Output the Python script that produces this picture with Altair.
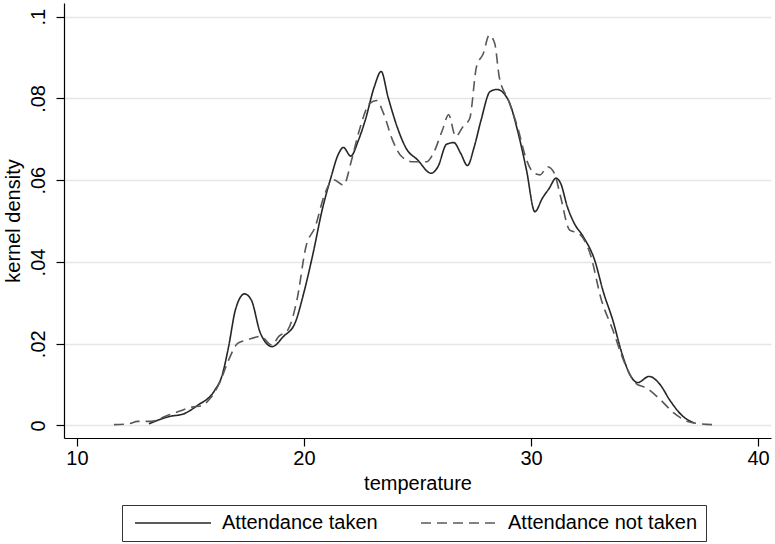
import altair as alt
import pandas as pd

# Kernel density estimates of temperature, by whether attendance was taken
taken_x = [13.17, 14.07, 14.68, 15.28, 16.08, 16.38, 16.68, 16.98, 17.38, 17.68,
           18.08, 18.6, 19.1, 19.6, 19.99, 20.4, 20.8, 21.2, 21.5, 21.74,
           22.06, 22.4, 22.7, 23.1, 23.4, 23.7, 24.1, 24.5, 25.0, 25.6,
           25.9, 26.28, 26.6, 26.9, 27.2, 27.5, 27.8, 28.2, 28.5, 29.0,
           29.4, 29.8, 30.17, 30.5, 30.8, 31.1, 31.3, 31.6, 31.9, 32.3,
           32.8, 33.2, 33.6, 34.0, 34.4, 34.7, 35.2, 35.7, 36.1, 36.7, 37.2]
taken_y = [0.0004, 0.0022, 0.0028, 0.0048, 0.0087, 0.012, 0.0193, 0.0283, 0.0322, 0.0307,
           0.0226, 0.0193, 0.0218, 0.025, 0.0324, 0.0421, 0.0527, 0.0609, 0.0662, 0.068,
           0.0659, 0.0698, 0.0747, 0.0829, 0.0866, 0.0804, 0.0731, 0.0678, 0.065, 0.0617,
           0.0633, 0.0688, 0.0692, 0.0666, 0.0636, 0.0682, 0.0747, 0.0817, 0.0822, 0.0796,
           0.0723, 0.0625, 0.0523, 0.0556, 0.058, 0.0605, 0.0593, 0.0535, 0.0495, 0.0462,
           0.0405, 0.0324, 0.0258, 0.0177, 0.012, 0.0105, 0.012, 0.0099, 0.0063, 0.0022, 0.0006]

not_x = [11.63, 12.27, 12.67, 13.27, 13.87, 14.47, 15.07, 15.48, 15.88, 16.28,
         16.68, 17.08, 17.49, 18.09, 18.59, 18.89, 19.29, 19.69, 20.09, 20.5,
         20.9, 21.3, 21.74, 22.1, 22.4, 22.9, 23.2, 23.5, 23.9, 24.3,
         24.8, 25.4, 25.7, 26.1, 26.37, 26.68, 27.0, 27.3, 27.6, 27.9,
         28.16, 28.4, 28.6, 29.0, 29.4, 29.8, 30.1, 30.4, 30.73, 31.03,
         31.3, 31.7, 32.1, 32.6, 33.1, 33.6, 34.1, 34.6, 35.1, 35.7,
         36.3, 36.9, 37.5, 38.0]
not_y = [0.0002, 0.0004, 0.001, 0.001, 0.0022, 0.0034, 0.0045, 0.0048, 0.0067, 0.0104,
         0.016, 0.0201, 0.0209, 0.0218, 0.0197, 0.0218, 0.0234, 0.0307, 0.0438, 0.0487,
         0.0564, 0.0601, 0.0588, 0.065, 0.0715, 0.0788, 0.0795, 0.0764, 0.0698, 0.0658,
         0.0645, 0.0645, 0.0666, 0.0723, 0.076, 0.0707, 0.0731, 0.0751, 0.0878, 0.091,
         0.0955, 0.0935, 0.0853, 0.0796, 0.0731, 0.065, 0.0619, 0.0613, 0.0633, 0.0617,
         0.056, 0.0478, 0.047, 0.0421, 0.0307, 0.0234, 0.0156, 0.0104, 0.0091, 0.0063,
         0.003, 0.001, 0.0004, 0.0002]

groups = ["Attendance taken", "Attendance not taken"]
x_ticks = [10, 20, 30, 40]
y_ticks = [0, 0.02, 0.04, 0.06, 0.08, 0.1]

df = pd.concat([
    pd.DataFrame({"temperature": taken_x, "density": taken_y, "group": groups[0]}),
    pd.DataFrame({"temperature": not_x, "density": not_y, "group": groups[1]}),
], ignore_index=True)

# Long horizontal key line: a path that runs well past the unit box to the right,
# so the legend rows stay short while the drawn line is ~76 px long.
key_line = "M-1,0H14.2"

legend = alt.Legend(
    title=None, orient="none", legendX=58, legendY=502, direction="horizontal",
    columns=2, symbolType=key_line, symbolSize=100, symbolStrokeWidth=1.6,
    labelFontSize=20, labelOffset=72, labelLimit=0, columnPadding=38, padding=8,
    strokeColor="#333333", fillColor="white", labelColor="black",
)

chart = alt.Chart(df).mark_line(interpolate="monotone", strokeWidth=1.6).encode(
    x=alt.X("temperature:Q",
            scale=alt.Scale(domain=[9.43, 40.57], nice=False, zero=False),
            axis=alt.Axis(values=x_ticks, title="temperature", grid=False,
                          labelPadding=2, titlePadding=5)),
    y=alt.Y("density:Q",
            scale=alt.Scale(domain=[-0.00306, 0.10335], nice=False, zero=False),
            axis=alt.Axis(values=y_ticks, title="kernel density", labelAngle=270,
                          labelExpr="replace(format(datum.value, '.2~f'), '0.', '.')",
                          labelPadding=8, titlePadding=5, grid=True)),
    color=alt.Color("group:N", sort=groups,
                    scale=alt.Scale(domain=groups, range=["#262626", "#585858"]),
                    legend=legend),
    strokeDash=alt.StrokeDash("group:N", sort=groups,
                              scale=alt.Scale(domain=groups, range=[[1, 0], [10, 6]]),
                              legend=legend),
).properties(
    width=707, height=435,
    autosize=alt.AutoSizeParams(type="none"),
    padding={"left": 64, "top": 3, "right": 4, "bottom": 106},
).configure(
    font="Liberation Sans",
).configure_view(
    stroke=None,
).configure_axis(
    domainColor="black", domainWidth=1.2, tickColor="black", tickSize=8, tickWidth=1.2,
    labelFontSize=20, titleFontSize=20, labelColor="black", titleColor="black",
    titleFontWeight="normal", gridColor="#e6e6e6", gridWidth=1.5,
)

chart.save("out.html", embed_options={"renderer": "svg", "actions": False})
